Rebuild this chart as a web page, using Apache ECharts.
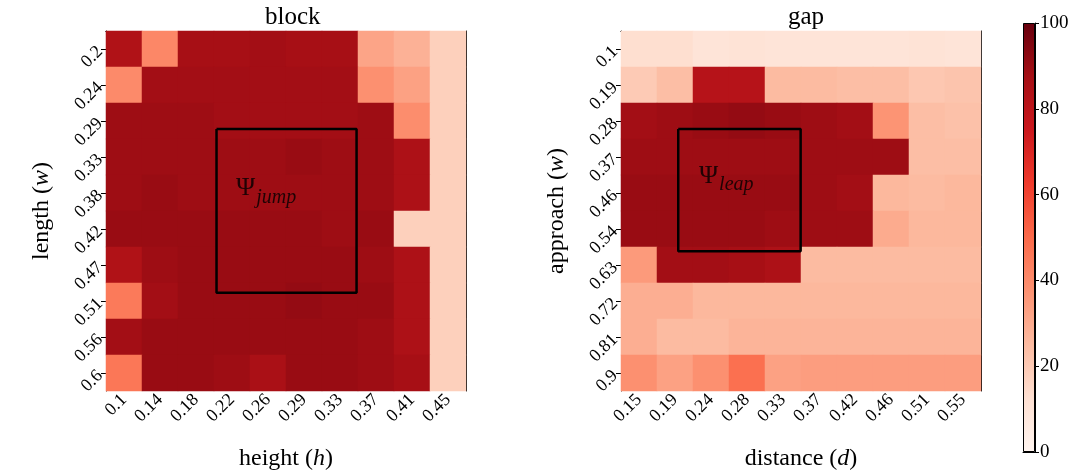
<!DOCTYPE html>
<html>
<head>
<meta charset="utf-8">
<script src="https://cdn.jsdelivr.net/npm/echarts@6/dist/echarts.min.js"></script>
<style>
  html, body { margin: 0; padding: 0; background: #fff; }
  #chart { width: 1074px; height: 476px; }
</style>
</head>
<body>
<div id="chart"></div>
<script>
// tick labels
const blockHeight = ["0.1", "0.14", "0.18", "0.22", "0.26", "0.29", "0.33", "0.37", "0.41", "0.45"];
const blockLength = ["0.2", "0.24", "0.29", "0.33", "0.38", "0.42", "0.47", "0.51", "0.56", "0.6"];
const gapDistance = ["0.15", "0.19", "0.24", "0.28", "0.33", "0.37", "0.42", "0.46", "0.51", "0.55"];
const gapApproach = ["0.1", "0.19", "0.28", "0.37", "0.46", "0.54", "0.63", "0.72", "0.81", "0.9"];
const colorbarTicks = [0, 20, 40, 60, 80, 100];

// success rates, one row per y label (top to bottom)
const blockValues = [
  [84, 41, 87, 87, 88, 87, 87, 32, 28, 18],
  [40, 88, 88, 88, 88, 88, 88, 38, 33, 18],
  [89, 89, 89, 88, 88, 88, 88, 89, 39, 18],
  [89, 89, 89, 89, 89, 90, 89, 89, 85, 18],
  [89, 90, 89, 89, 89, 89, 89, 89, 85, 18],
  [90, 90, 90, 90, 90, 90, 89, 90, 18, 18],
  [84, 89, 90, 90, 90, 90, 90, 89, 85, 18],
  [45, 88, 90, 90, 90, 91, 90, 90, 85, 18],
  [88, 90, 90, 90, 90, 90, 90, 89, 85, 18],
  [46, 90, 90, 89, 86, 90, 90, 89, 87, 18]
];
const gapValues = [
  [13, 13, 10, 11, 10, 10, 10, 10, 11, 10],
  [20, 24, 82, 82, 25, 25, 24, 24, 21, 22],
  [88, 89, 90, 91, 90, 89, 88, 37, 24, 23],
  [89, 89, 89, 89, 89, 89, 89, 89, 24, 24],
  [90, 90, 90, 90, 90, 89, 88, 26, 25, 26],
  [90, 90, 90, 90, 89, 89, 89, 30, 26, 26],
  [35, 88, 88, 87, 85, 25, 25, 25, 25, 25],
  [29, 29, 26, 26, 26, 26, 26, 26, 26, 26],
  [29, 25, 25, 27, 27, 27, 27, 27, 27, 27],
  [38, 33, 38, 48, 33, 34, 34, 34, 34, 34]
];

// highlighted regions, in cell units (0 = left / top edge)
const jumpBox = [[3.07, 2.72], [6.96, 2.72], [6.96, 7.27], [3.07, 7.27], [3.07, 2.72]];
const leapBox = [[1.59, 2.72], [4.99, 2.72], [4.99, 6.12], [1.59, 6.12], [1.59, 2.72]];
const jumpLabelAt = [3.6, 4.4];
const leapLabelAt = [2.15, 4.05];

const REDS = ["#fff5f0", "#fee0d2", "#fcbba1", "#fc9272", "#fb6a4a", "#ef3b2c", "#cb181d", "#a50f15", "#67000d"];
const FONT = "Liberation Serif";

const toCells = (rows) => {
  const out = [];
  rows.forEach((row, y) => row.forEach((v, x) => out.push([x, y, v])));
  return out;
};

const chart = echarts.init(document.getElementById("chart"));

const black = { color: "#000", width: 1 };
const nameStyle = {
  fontFamily: FONT, fontSize: 24, color: "#000",
  rich: {
    a: { fontFamily: FONT, fontSize: 24, color: "#000" },
    i: { fontFamily: FONT, fontSize: 24, fontStyle: "italic", color: "#000" }
  }
};
const catAxis = (grid, data, name, isY) => ({
  gridIndex: grid, type: "category", data: data,
  inverse: isY, position: isY ? "left" : "bottom",
  name: name, nameLocation: "middle", nameGap: isY ? 52 : 56,
  nameTextStyle: nameStyle,
  axisLine: { show: true, lineStyle: black },
  axisTick: { show: true, alignWithLabel: true, length: 5, lineStyle: black },
  axisLabel: { rotate: 45, fontFamily: FONT, fontSize: 18, color: "#000", margin: 6, interval: 0 },
  splitLine: { show: false }
});
const frame = (grid, pos, inverse) => ({
  gridIndex: grid, type: "value", min: 0, max: 10, position: pos, inverse: inverse,
  axisLine: { show: true, lineStyle: black },
  axisTick: { show: false }, axisLabel: { show: false }, splitLine: { show: false }
});

const boxSeries = (axis, pts) => ({
  type: "line", xAxisIndex: axis, yAxisIndex: axis, data: pts,
  symbol: "none", silent: true, z: 10,
  lineStyle: { color: "#000", width: 2.5 }
});
const psiLabel = (axis, at, sub) => ({
  type: "scatter", xAxisIndex: axis, yAxisIndex: axis, data: [at],
  symbolSize: 1, itemStyle: { color: "transparent" }, silent: true, z: 11,
  label: {
    show: true, position: "right", distance: 0,
    formatter: "{a|\u03A8}{b|" + sub + "}",
    rich: {
      a: { fontFamily: FONT, fontSize: 26, color: "#000", lineHeight: 28, verticalAlign: "top" },
      b: { fontFamily: FONT, fontSize: 20, fontStyle: "italic", color: "#000", lineHeight: 20, padding: [12, 0, 0, 1], verticalAlign: "top" }
    }
  }
});

const option = {
  backgroundColor: "#fff",
  animation: false,
  title: [
    { text: "block", left: 260, top: 0, textStyle: { fontFamily: FONT, fontSize: 25, fontWeight: "normal", color: "#000" } },
    { text: "gap", left: 783, top: 0, textStyle: { fontFamily: FONT, fontSize: 25, fontWeight: "normal", color: "#000" } }
  ],
  grid: [
    { left: 106, top: 31, width: 360, height: 360 },
    { left: 621, top: 31, width: 360, height: 360 },
    { left: 1023, top: 23, width: 12, height: 429 }
  ],
  visualMap: {
    type: "continuous", show: false, min: 0, max: 100, seriesIndex: [0, 1],
    inRange: { color: REDS }
  },
  xAxis: [
    catAxis(0, blockHeight, "{a|height (}{i|h}{a|)}", false),
    catAxis(1, gapDistance, "{a|distance (}{i|d}{a|)}", false),
    frame(0, "top", false),
    frame(1, "top", false),
    {
      gridIndex: 2, type: "category", data: ["c"],
      axisLine: { show: true, lineStyle: black }, axisTick: { show: false }, axisLabel: { show: false }
    }
  ],
  yAxis: [
    catAxis(0, blockLength, "{a|length (}{i|w}{a|)}", true),
    catAxis(1, gapApproach, "{a|approach (}{i|w}{a|)}", true),
    frame(0, "right", true),
    frame(1, "right", true),
    {
      gridIndex: 2, type: "value", position: "right",
      min: colorbarTicks[0], max: colorbarTicks[colorbarTicks.length - 1], interval: 20,
      axisLine: { show: true, lineStyle: black },
      axisTick: { show: true, length: 4, lineStyle: black },
      axisLabel: { fontFamily: FONT, fontSize: 19, color: "#000", margin: 5 },
      splitLine: { show: false }
    }
  ],
  series: [
    { type: "heatmap", xAxisIndex: 0, yAxisIndex: 0, data: toCells(blockValues), emphasis: { disabled: true }, progressive: 0 },
    { type: "heatmap", xAxisIndex: 1, yAxisIndex: 1, data: toCells(gapValues), emphasis: { disabled: true }, progressive: 0 },
    boxSeries(2, jumpBox),
    boxSeries(3, leapBox),
    psiLabel(2, jumpLabelAt, "jump"),
    psiLabel(3, leapLabelAt, "leap"),
    {
      type: "bar", xAxisIndex: 4, yAxisIndex: 4, data: [100], barWidth: "100%", silent: true,
      itemStyle: {
        borderColor: "#000", borderWidth: 1,
        color: {
          type: "linear", x: 0, y: 1, x2: 0, y2: 0,
          colorStops: REDS.map((c, i) => ({ offset: i / (REDS.length - 1), color: c }))
        }
      }
    }
  ]
};

chart.setOption(option);
window.addEventListener("resize", () => chart.resize());
</script>
</body>
</html>
